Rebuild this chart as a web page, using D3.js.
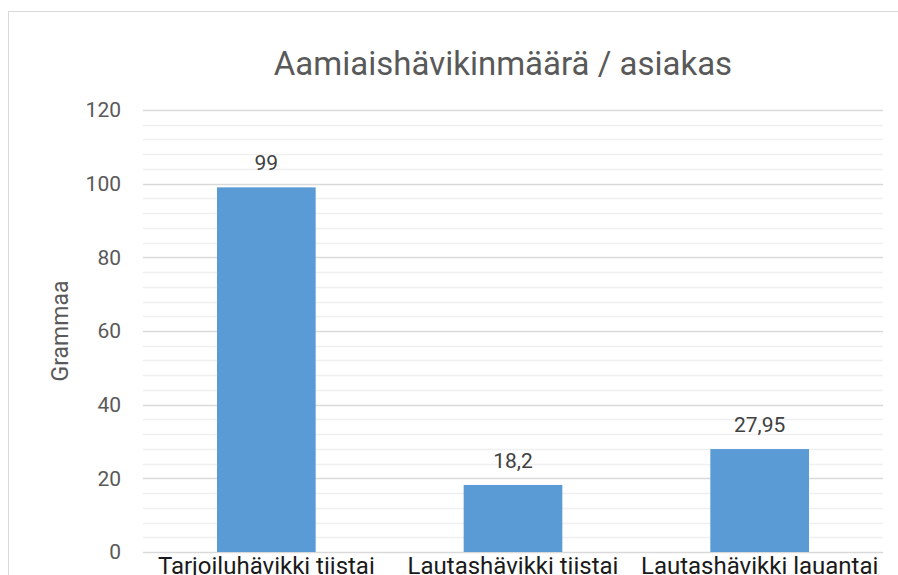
<!DOCTYPE html>
<html>
<head>
<meta charset="utf-8">
<script src="https://cdn.jsdelivr.net/npm/d3@7"></script>
<style>
  body { margin: 0; background: #fff; }
  svg { display: block; font-family: Roboto, "Open Sans", sans-serif; }
</style>
</head>
<body>
<svg id="chart" width="898" height="575"></svg>
<script>
const categories = ['Tarjoiluhävikki tiistai', 'Lautashävikki tiistai', 'Lautashävikki lauantai'];
const values = [99, 18.2, 27.95];
const valueLabels = ['99', '18,2', '27,95'];
const majorTicks = [0, 20, 40, 60, 80, 100, 120];
const minorTicks = d3.range(0, 121, 4);

const svg = d3.select('#chart');
const margin = {top: 110, right: 15, bottom: 23, left: 143};
const width = 898 - margin.left - margin.right;
const height = 575 - margin.top - margin.bottom;

// chart border (right and bottom fall outside the picture)
svg.append('rect')
  .attr('x', 8.5).attr('y', 11.5)
  .attr('width', 1000).attr('height', 1000)
  .attr('fill', 'none')
  .attr('stroke', '#d9d9d9');

const g = svg.append('g')
  .attr('transform', 'translate(' + margin.left + ',' + margin.top + ')');

const x = d3.scaleBand()
  .domain(categories)
  .range([0, width])
  .paddingInner(0.6)
  .paddingOuter(0.3);

const y = d3.scaleLinear()
  .domain([0, 120])
  .range([height, 0]);

g.selectAll('line.minor')
  .data(minorTicks.filter(function(d){ return d % 20 !== 0; }))
  .join('line')
  .attr('class', 'minor')
  .attr('x1', 0).attr('x2', width)
  .attr('y1', function(d){ return Math.round(y(d)) + 0.5; })
  .attr('y2', function(d){ return Math.round(y(d)) + 0.5; })
  .attr('stroke', '#f0f0f0')
  .attr('stroke-width', 1.5);

g.selectAll('line.major')
  .data(majorTicks)
  .join('line')
  .attr('class', 'major')
  .attr('x1', 0).attr('x2', width)
  .attr('y1', function(d){ return Math.round(y(d)) + 0.5; })
  .attr('y2', function(d){ return Math.round(y(d)) + 0.5; })
  .attr('stroke', '#d9d9d9')
  .attr('stroke-width', 1.5);

g.selectAll('rect.bar')
  .data(values)
  .join('rect')
  .attr('class', 'bar')
  .attr('x', function(d, i){ return x(categories[i]); })
  .attr('width', x.bandwidth())
  .attr('y', function(d){ return y(d); })
  .attr('height', function(d){ return y(0) - y(d); })
  .attr('fill', '#5b9bd5');

g.selectAll('text.value')
  .data(values)
  .join('text')
  .attr('class', 'value')
  .attr('x', function(d, i){ return x(categories[i]) + x.bandwidth() / 2; })
  .attr('y', function(d){ return y(d) - 17; })
  .attr('text-anchor', 'middle')
  .attr('font-size', 21)
  .attr('fill', '#404040')
  .text(function(d, i){ return valueLabels[i]; });

const yAxis = g.append('g')
  .call(d3.axisLeft(y).tickValues(majorTicks).tickSize(0).tickPadding(22));
yAxis.select('.domain').remove();
yAxis.selectAll('text')
  .attr('font-size', 21)
  .attr('font-family', 'Roboto, sans-serif')
  .attr('fill', '#595959');

const xAxis = g.append('g')
  .attr('transform', 'translate(0,' + height + ')')
  .call(d3.axisBottom(x).tickSize(0).tickPadding(5));
xAxis.select('.domain').remove();
xAxis.selectAll('text')
  .attr('font-size', 24)
  .attr('font-family', 'Roboto, sans-serif')
  .attr('fill', '#1a1a1a');

svg.append('text')
  .attr('x', 503)
  .attr('y', 75)
  .attr('text-anchor', 'middle')
  .attr('font-size', 33)
  .attr('fill', '#595959')
  .text('Aamiaishävikinmäärä / asiakas');

svg.append('text')
  .attr('transform', 'translate(68,' + (margin.top + height / 2) + ') rotate(-90)')
  .attr('text-anchor', 'middle')
  .attr('font-size', 23)
  .attr('fill', '#595959')
  .text('Grammaa');
</script>
</body>
</html>
